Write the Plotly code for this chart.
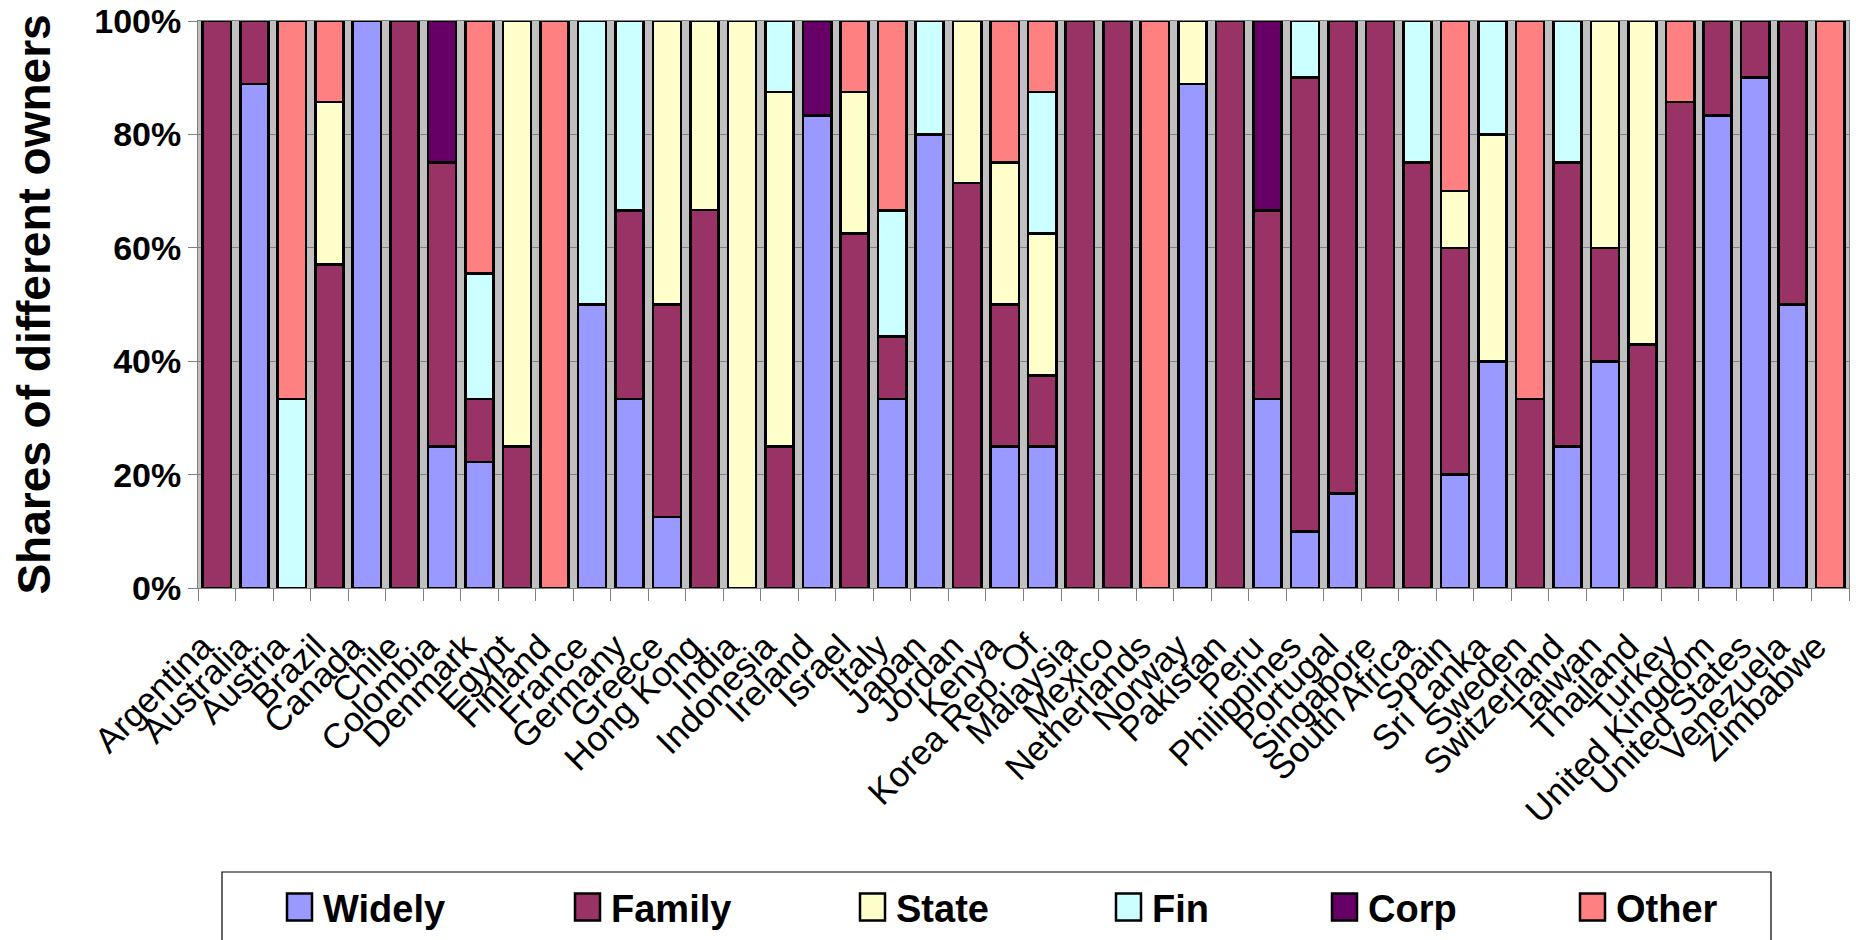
import plotly.graph_objects as go

countries = ["Argentina", "Australia", "Austria", "Brazil", "Canada", "Chile", "Colombia",
             "Denmark", "Egypt", "Finland", "France", "Germany", "Greece", "Hong Kong",
             "India", "Indonesia", "Ireland", "Israel", "Italy", "Japan", "Jordan", "Kenya",
             "Korea Rep. Of", "Malaysia", "Mexico", "Netherlands", "Norway", "Pakistan",
             "Peru", "Philippines", "Portugal", "Singapore", "South Africa", "Spain",
             "Sri Lanka", "Sweden", "Switzerland", "Taiwan", "Thailand", "Turkey",
             "United Kingdom", "United States", "Venezuela", "Zimbabwe"]

widely = [0, 88.9, 0, 0, 100, 0, 25, 22.2, 0, 0, 50, 33.3, 12.5, 0, 0, 0, 83.3, 0, 33.3, 80,
          0, 25, 25, 0, 0, 0, 88.9, 0, 33.3, 10, 16.7, 0, 0, 20, 40, 0, 25, 40, 0, 0,
          83.3, 90, 50, 0]
family = [100, 11.1, 0, 57.1, 0, 100, 50, 11.1, 25, 0, 0, 33.3, 37.5, 66.7, 0, 25, 0, 62.5,
          11.1, 0, 71.4, 25, 12.5, 100, 100, 0, 0, 100, 33.3, 80, 83.3, 100, 75, 40, 0,
          33.3, 50, 20, 42.9, 85.7, 16.7, 10, 50, 0]
state = [0, 0, 0, 28.6, 0, 0, 0, 0, 75, 0, 0, 0, 50, 33.3, 100, 62.5, 0, 25, 0, 0, 28.6,
         25, 25, 0, 0, 0, 11.1, 0, 0, 0, 0, 0, 0, 10, 40, 0, 0, 40, 57.1, 0, 0, 0, 0, 0]
fin = [0, 0, 33.3, 0, 0, 0, 0, 22.2, 0, 0, 50, 33.4, 0, 0, 0, 12.5, 0, 0, 22.2, 20, 0, 0,
       25, 0, 0, 0, 0, 0, 0, 10, 0, 0, 25, 0, 20, 0, 25, 0, 0, 0, 0, 0, 0, 0]
corp = [0, 0, 0, 0, 0, 0, 25, 0, 0, 0, 0, 0, 0, 0, 0, 0, 16.7, 0, 0, 0, 0, 0, 0, 0, 0, 0,
        0, 0, 33.4, 0, 0, 0, 0, 0, 0, 0, 0, 0, 0, 0, 0, 0, 0, 0]
other = [0, 0, 66.7, 14.3, 0, 0, 0, 44.5, 0, 100, 0, 0, 0, 0, 0, 0, 0, 12.5, 33.4, 0, 0, 25,
         12.5, 0, 0, 100, 0, 0, 0, 0, 0, 0, 0, 30, 0, 66.7, 0, 0, 0, 14.3, 0, 0, 0, 100]

series_names = ["Widely", "Family", "State", "Fin", "Corp", "Other"]
series_values = [widely, family, state, fin, corp, other]
series_colors = ["#9999FF", "#993366", "#FFFFCC", "#CCFFFF", "#660066", "#FF8080"]

y_ticks = [0, 20, 40, 60, 80, 100]
y_tick_labels = ["0%", "20%", "40%", "60%", "80%", "100%"]
y_title = "Shares of different owners"

FONT = "Liberation Sans, Arial, sans-serif"
W, H = 1856, 940
ML, MR, MT, MB = 198, 7, 21, 352

fig = go.Figure()
for name, vals, col in zip(series_names, series_values, series_colors):
    fig.add_trace(go.Bar(
        x=countries, y=vals, name=name,
        marker=dict(color=col, line=dict(color="#000000", width=2.6)),
        showlegend=False,
    ))

# legend drawn as a boxed row of keys below the chart
pw = W - ML - MR
ph = H - MT - MB
def px_to_paper_x(px):
    return (px - ML) / pw
def px_to_paper_y(py):
    return (H - MB - py) / ph

legend_left_px = [287, 575, 860, 1116, 1332, 1580]
key_w, key_h, key_cy = 25, 27, 907
shapes = [dict(type="rect", xref="paper", yref="paper",
               x0=px_to_paper_x(222), x1=px_to_paper_x(1771),
               y0=px_to_paper_y(960), y1=px_to_paper_y(872),
               line=dict(color="#000000", width=1.2), fillcolor="rgba(0,0,0,0)", layer="above")]
annotations = []
for name, col, lx in zip(series_names, series_colors, legend_left_px):
    shapes.append(dict(type="rect", xref="paper", yref="paper",
                       x0=px_to_paper_x(lx), x1=px_to_paper_x(lx + key_w),
                       y0=px_to_paper_y(key_cy + key_h / 2), y1=px_to_paper_y(key_cy - key_h / 2),
                       line=dict(color="#000000", width=2.5), fillcolor=col, layer="above"))
    annotations.append(dict(xref="paper", yref="paper", x=px_to_paper_x(lx + key_w + 9),
                            y=px_to_paper_y(key_cy + 2), xanchor="left", yanchor="middle",
                            text=name, showarrow=False,
                            font=dict(family=FONT, size=38, color="#000000", weight="bold")))

fig.update_layout(
    width=W, height=H,
    margin=dict(l=ML, r=MR, t=MT, b=MB, autoexpand=False),
    barmode="stack", bargap=0.25,
    plot_bgcolor="#C0C0C0", paper_bgcolor="#FFFFFF",
    font=dict(family=FONT, color="#000000"),
    shapes=shapes, annotations=annotations,
    showlegend=False,
)
fig.update_xaxes(
    type="category", range=[-0.5, len(countries) - 0.5],
    tickmode="linear", tick0=0, dtick=1,
    tickangle=-45, tickfont=dict(family=FONT, size=35, color="#000000"),
    ticklabelshift=-14, ticklabelstandoff=23,
    ticks="outside", tickson="boundaries", ticklen=12, tickcolor="#808080", tickwidth=1,
    showline=True, linecolor="#808080", linewidth=1, mirror=True,
    showgrid=False, automargin=False,
)
fig.update_yaxes(
    range=[0, 100], tickmode="array", tickvals=y_ticks, ticktext=y_tick_labels,
    tickfont=dict(family=FONT, size=34, color="#000000", weight="bold"),
    ticks="outside", ticklen=9, tickcolor="#808080", tickwidth=1,
    showline=True, linecolor="#808080", linewidth=1, mirror=True,
    showgrid=True, gridcolor="#808080", gridwidth=1, zeroline=False,
    title=dict(text=y_title, font=dict(family=FONT, size=46, color="#000000", weight="bold"),
               standoff=29),
    automargin=False,
)

fig.write_html("out.html", config={"displayModeBar": False},
               post_script="document.body.style.margin='0';")
